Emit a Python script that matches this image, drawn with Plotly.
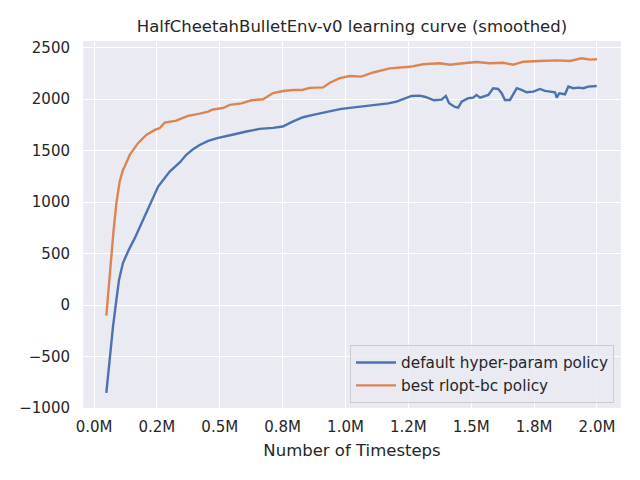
import plotly.graph_objects as go

# Timesteps in millions
blue_t = [0.049, 0.0625, 0.0756, 0.089, 0.0995, 0.115, 0.135, 0.162, 0.189, 0.222,
          0.255, 0.301, 0.341, 0.367, 0.394, 0.42, 0.454, 0.49, 0.513, 0.55,
          0.606, 0.659, 0.712, 0.75, 0.792, 0.831, 0.871, 0.911, 0.951, 0.978,
          1.017, 1.057, 1.097, 1.137, 1.17, 1.203, 1.233, 1.263, 1.296, 1.318,
          1.352, 1.382, 1.399, 1.412, 1.435, 1.448, 1.462, 1.488, 1.508, 1.521,
          1.535, 1.568, 1.587, 1.607, 1.621, 1.634, 1.654, 1.665, 1.681, 1.700,
          1.720, 1.747, 1.773, 1.793, 1.813, 1.833, 1.840, 1.850, 1.873, 1.886,
          1.906, 1.926, 1.946, 1.965, 1.999]
blue_v = [-854, -499, -208, 51, 246, 408, 520, 650, 796, 990,
          1151, 1297, 1385, 1460, 1515, 1555, 1595, 1622, 1637, 1655,
          1686, 1712, 1722, 1735, 1785, 1825, 1848, 1870, 1894, 1904,
          1916, 1926, 1937, 1945, 1960, 1977, 2005, 2032, 2035, 2022,
          1990, 1996, 2032, 1961, 1925, 1918, 1977, 2010, 2016, 2042,
          2016, 2042, 2107, 2100, 2058, 1993, 1993, 2042, 2107, 2090,
          2068, 2074, 2100, 2081, 2074, 2068, 2016, 2058, 2048, 2123,
          2107, 2113, 2107, 2123, 2128]

orange_t = [0.049, 0.06, 0.069, 0.078, 0.089, 0.102, 0.115, 0.122, 0.142, 0.175,
            0.208, 0.2415, 0.261, 0.281, 0.328, 0.341, 0.374, 0.4205, 0.454, 0.473,
            0.513, 0.540, 0.586, 0.626, 0.672, 0.712, 0.752, 0.792, 0.831, 0.858,
            0.911, 0.938, 0.977, 1.017, 1.063, 1.110, 1.176, 1.256, 1.309, 1.375,
            1.415, 1.468, 1.521, 1.574, 1.627, 1.667, 1.707, 1.773, 1.840, 1.893,
            1.939, 1.972, 2.0]
orange_v = [-104, 181, 472, 731, 990, 1200, 1313, 1346, 1459, 1573,
            1653, 1702, 1718, 1773, 1792, 1806, 1838, 1860, 1880, 1900,
            1915, 1945, 1960, 1990, 2000, 2060, 2080, 2090, 2092, 2110,
            2115, 2160, 2205, 2225, 2220, 2260, 2300, 2315, 2340, 2350,
            2335, 2350, 2362, 2350, 2355, 2335, 2365, 2372, 2378, 2372,
            2398, 2385, 2388]

x_tickvals = [0, 0.25, 0.5, 0.75, 1.0, 1.25, 1.5, 1.75, 2.0]
x_ticktext = ["0.0M", "0.2M", "0.5M", "0.8M", "1.0M", "1.2M", "1.5M", "1.8M", "2.0M"]
y_tickvals = [-1000, -500, 0, 500, 1000, 1500, 2000, 2500]

series_names = ["default hyper-param policy", "best rlopt-bc policy"]

M = 1e6
fig = go.Figure()
fig.add_trace(go.Scatter(x=[t * M for t in blue_t], y=blue_v, mode="lines",
                         name=series_names[0],
                         line=dict(color="#4C72B0", width=2.4)))
fig.add_trace(go.Scatter(x=[t * M for t in orange_t], y=orange_v, mode="lines",
                         name=series_names[1],
                         line=dict(color="#DD8452", width=2.4)))

font_family = "DejaVu Sans"
text_color = "#262626"

fig.update_layout(
    width=640, height=480,
    margin=dict(l=83, r=19, t=41, b=72, autoexpand=False),
    paper_bgcolor="white",
    plot_bgcolor="#EAEAF2",
    font=dict(family=font_family, color=text_color, size=15),
    title=dict(text="HalfCheetahBulletEnv-v0 learning curve (smoothed)",
               x=(83 + 621) / 2 / 640, xanchor="center",
               y=1 - 26 / 480, yanchor="middle", yref="container",
               font=dict(size=16.5, color=text_color, family=font_family)),
    showlegend=True,
    legend=dict(x=0.987, xanchor="right", y=0.0136, yanchor="bottom",
                bgcolor="rgba(234,234,242,0.8)", bordercolor="#CCCCCC",
                borderwidth=1, font=dict(size=15.3, color=text_color),
                tracegroupgap=0, itemwidth=40),
    hovermode=False,
)
fig.update_xaxes(
    range=[-0.0438 * M, 2.0955 * M],
    tickvals=[v * M for v in x_tickvals], ticktext=x_ticktext,
    showgrid=True, gridcolor="white", gridwidth=1.3,
    zeroline=False, showline=False, ticks="",
    ticklabelstandoff=8, automargin=False,
    title=dict(text="Number of Timesteps", font=dict(size=16.5), standoff=9),
)
fig.update_yaxes(
    range=[-1001, 2566],
    tickvals=y_tickvals,
    showgrid=True, gridcolor="white", gridwidth=1.3,
    zeroline=False, showline=False, ticks="",
    ticklabelstandoff=12, automargin=False,
)

fig.write_html("out.html",
               config={"displayModeBar": False},
               post_script="document.body.style.margin='0';document.body.style.padding='0';")
